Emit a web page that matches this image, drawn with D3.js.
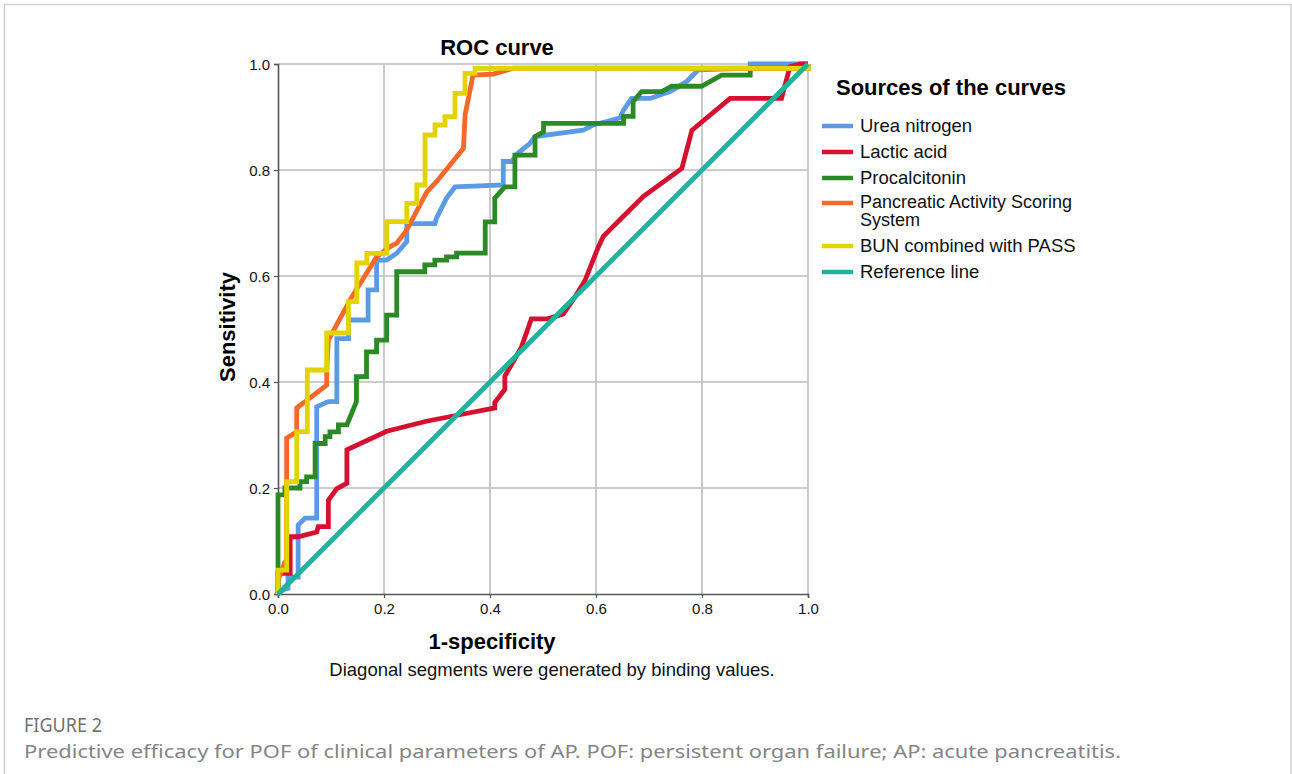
<!DOCTYPE html>
<html><head><meta charset="utf-8">
<script src="https://cdn.jsdelivr.net/npm/d3@7"></script>
<style>
html,body{margin:0;padding:0;background:#fff;}
svg{display:block;}
</style></head>
<body>
<svg id="c" width="1292" height="774"></svg>
<script>
// ---------- data ----------
const xTicks = [0, 0.2, 0.4, 0.6, 0.8, 1.0];
const yTicks = [0, 0.2, 0.4, 0.6, 0.8, 1.0];
const seriesNames = ["Urea nitrogen","Lactic acid","Procalcitonin","Pancreatic Activity Scoring System","BUN combined with PASS","Reference line"];
const seriesColors = ["#5b9be6","#d6102f","#2b8a26","#f4692a","#e3d300","#1fb39d"];

const ureaNitrogen = [[0,0],[0.01,0.008],[0.019,0.011],[0.019,0.032],[0.038,0.032],[0.038,0.13],[0.051,0.143],[0.073,0.143],[0.073,0.353],[0.095,0.363],[0.111,0.363],[0.111,0.482],[0.133,0.482],[0.133,0.517],[0.170,0.517],[0.170,0.574],[0.186,0.574],[0.186,0.630],[0.205,0.630],[0.224,0.643],[0.243,0.665],[0.243,0.699],[0.296,0.699],[0.299,0.709],[0.318,0.747],[0.334,0.768],[0.425,0.772],[0.425,0.816],[0.441,0.816],[0.453,0.832],[0.475,0.850],[0.485,0.863],[0.576,0.875],[0.595,0.885],[0.645,0.898],[0.652,0.913],[0.667,0.935],[0.702,0.935],[0.740,0.948],[0.771,0.967],[0.793,0.989],[0.891,0.992],[0.891,1],[1,1]];
const lacticAcid = [[0,0],[0,0.039],[0.023,0.039],[0.023,0.108],[0.038,0.108],[0.073,0.117],[0.076,0.127],[0.095,0.127],[0.095,0.177],[0.111,0.199],[0.130,0.209],[0.130,0.272],[0.205,0.307],[0.280,0.326],[0.362,0.342],[0.409,0.351],[0.409,0.361],[0.428,0.386],[0.428,0.411],[0.459,0.465],[0.478,0.519],[0.507,0.519],[0.538,0.528],[0.560,0.560],[0.579,0.591],[0.604,0.654],[0.614,0.675],[0.626,0.687],[0.645,0.706],[0.689,0.750],[0.762,0.803],[0.781,0.875],[0.853,0.935],[0.950,0.935],[0.966,0.995],[0.985,1],[1,1]];
const procalcitonin = [[0,0],[0,0.187],[0.013,0.187],[0.013,0.2],[0.0415,0.2],[0.0415,0.212],[0.054,0.212],[0.054,0.221],[0.070,0.221],[0.070,0.284],[0.089,0.284],[0.089,0.297],[0.098,0.297],[0.098,0.306],[0.114,0.306],[0.114,0.319],[0.130,0.319],[0.139,0.341],[0.148,0.363],[0.148,0.410],[0.167,0.410],[0.167,0.457],[0.186,0.457],[0.186,0.479],[0.205,0.479],[0.205,0.526],[0.224,0.526],[0.224,0.608],[0.277,0.608],[0.277,0.621],[0.296,0.621],[0.296,0.630],[0.318,0.630],[0.318,0.636],[0.337,0.636],[0.337,0.643],[0.391,0.643],[0.391,0.702],[0.409,0.702],[0.409,0.747],[0.428,0.768],[0.447,0.768],[0.447,0.828],[0.485,0.828],[0.485,0.863],[0.501,0.872],[0.501,0.888],[0.652,0.888],[0.652,0.901],[0.670,0.901],[0.670,0.929],[0.686,0.948],[0.724,0.948],[0.743,0.958],[0.799,0.958],[0.837,0.979],[0.891,0.979],[0.891,0.992],[1,0.992],[1,1]];
const pass = [[0,0],[0,0.026],[0.013,0.060],[0.0164,0.064],[0.0164,0.294],[0.032,0.304],[0.0353,0.304],[0.0353,0.351],[0.0919,0.394],[0.0919,0.419],[0.095,0.479],[0.136,0.555],[0.167,0.605],[0.186,0.636],[0.211,0.655],[0.224,0.662],[0.243,0.687],[0.281,0.759],[0.299,0.778],[0.350,0.841],[0.353,0.904],[0.368,0.979],[0.406,0.981],[0.444,0.992],[1,0.992],[1,1]];
const bunPass = [[0,0],[0,0.045],[0.0164,0.045],[0.0164,0.2119],[0.0353,0.2119],[0.0353,0.3062],[0.0553,0.3062],[0.0553,0.4226],[0.0919,0.4226],[0.0919,0.4925],[0.1328,0.4925],[0.1328,0.5515],[0.1487,0.5515],[0.1487,0.6245],[0.1675,0.6245],[0.1675,0.6428],[0.2053,0.6428],[0.2053,0.7025],[0.2430,0.7025],[0.2430,0.7372],[0.2619,0.7372],[0.2619,0.7717],[0.2774,0.7717],[0.2774,0.8660],[0.2962,0.8660],[0.2962,0.8849],[0.3151,0.8849],[0.3151,0.9006],[0.334,0.9006],[0.334,0.9447],[0.3528,0.9447],[0.3528,0.9824],[0.3717,0.9824],[0.3717,0.9919],[1,0.9919],[1,1]];
const referenceLine = [[0,0],[1,1]];
const seriesData = [ureaNitrogen, lacticAcid, procalcitonin, pass, bunPass, referenceLine];

// ---------- drawing ----------
const svg = d3.select("#c");
// outer frame
svg.append("rect").attr("x",4.5).attr("y",4.5).attr("width",1286.5).attr("height",800)
  .attr("fill","#fff").attr("stroke","#cfcfcf").attr("stroke-width",1.5);

const L=278, R=808, T=64, B=594;
const x = d3.scaleLinear().domain([0,1]).range([L,R]);
const y = d3.scaleLinear().domain([0,1]).range([B,T]);

const g = svg.append("g");
// grid
g.selectAll(".gx").data(xTicks.slice(1)).join("line")
  .attr("x1",d=>x(d)).attr("x2",d=>x(d)).attr("y1",T).attr("y2",B)
  .attr("stroke","#bdbdbd").attr("stroke-width",1.6);
g.selectAll(".gy").data(yTicks.slice(1)).join("line")
  .attr("x1",L).attr("x2",R).attr("y1",d=>y(d)).attr("y2",d=>y(d))
  .attr("stroke","#bdbdbd").attr("stroke-width",1.6);

// axes
const xAxis = d3.axisBottom(x).tickValues(xTicks).tickFormat(d3.format(".1f")).tickSize(4).tickPadding(5);
const yAxis = d3.axisLeft(y).tickValues(yTicks).tickFormat(d3.format(".1f")).tickSize(4).tickPadding(4);
const gx = g.append("g").attr("transform",`translate(0,${B})`).call(xAxis);
const gy = g.append("g").attr("transform",`translate(${L},0)`).call(yAxis);
[gx,gy].forEach(a=>{
  a.select(".domain").attr("stroke","#555").attr("stroke-width",1.6);
  a.selectAll(".tick line").attr("stroke","#555").attr("stroke-width",1.2);
  a.selectAll("text").attr("font-family","Liberation Sans, Arial, sans-serif").attr("font-size",15).attr("fill","#111");
});
gy.selectAll(".tick text").attr("dy","0.35em");

// series
const line = d3.line().x(d=>x(d[0])).y(d=>y(d[1]));
seriesData.forEach((s,i)=>{
  g.append("path").datum(s).attr("d",line).attr("fill","none")
   .attr("stroke",seriesColors[i]).attr("stroke-width",4.8).attr("stroke-linejoin","miter");
});

// titles
const font = "Liberation Sans, Arial, sans-serif";
svg.append("text").attr("x",497).attr("y",55).attr("text-anchor","middle")
  .attr("font-family",font).attr("font-weight","bold").attr("font-size",22).text("ROC curve");
svg.append("text").attr("x",492).attr("y",649).attr("text-anchor","middle")
  .attr("font-family",font).attr("font-weight","bold").attr("font-size",22).text("1-specificity");
svg.append("text").attr("transform","translate(235,327) rotate(-90)").attr("text-anchor","middle")
  .attr("font-family",font).attr("font-weight","bold").attr("font-size",22).text("Sensitivity");
svg.append("text").attr("x",552).attr("y",676).attr("text-anchor","middle")
  .attr("font-family",font).attr("font-size",18.5).attr("fill","#111").text("Diagonal segments were generated by binding values.");

// legend
svg.append("text").attr("x",836).attr("y",95).attr("font-family",font).attr("font-weight","bold")
  .attr("font-size",22).text("Sources of the curves");
const legY = [126,152,178,203,246,272];
const legLines = [[seriesNames[0]],[seriesNames[1]],[seriesNames[2]],["Pancreatic Activity Scoring","System"],[seriesNames[4]],[seriesNames[5]]];
legY.forEach((ly,i)=>{
  svg.append("line").attr("x1",822).attr("x2",853).attr("y1",ly).attr("y2",ly)
    .attr("stroke",seriesColors[i]).attr("stroke-width",4.5);
  const multi = legLines[i].length>1;
  const t = svg.append("text").attr("x",860).attr("y",ly+(multi?5:6)).attr("font-family",font)
    .attr("font-size",multi?18:18.5).attr("fill","#111");
  legLines[i].forEach((s,j)=>t.append("tspan").attr("x",860).attr("dy",j?18:0).text(s));
});

// caption
svg.append("text").attr("x",24).attr("y",732).attr("font-family","Noto Sans, sans-serif")
  .attr("font-size",19).attr("fill","#707070").attr("textLength",78).attr("lengthAdjust","spacingAndGlyphs").text("FIGURE 2");
svg.append("text").attr("x",24).attr("y",758).attr("font-family","Noto Sans, sans-serif")
  .attr("font-size",17.5).attr("fill","#858585").attr("textLength",1097).attr("lengthAdjust","spacingAndGlyphs")
  .text("Predictive efficacy for POF of clinical parameters of AP. POF: persistent organ failure; AP: acute pancreatitis.");
</script>
</body></html>
